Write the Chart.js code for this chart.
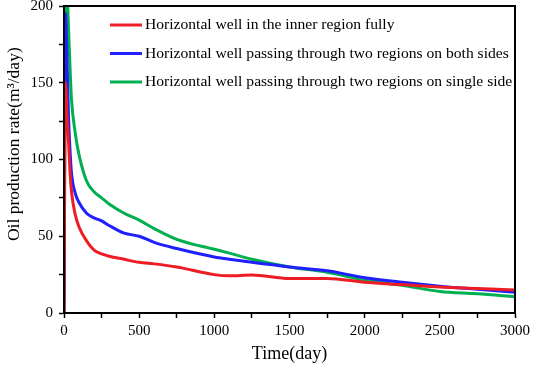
<!DOCTYPE html>
<html>
<head>
<meta charset="utf-8">
<script src="https://cdn.jsdelivr.net/npm/chart.js@4.4.1/dist/chart.umd.min.js"></script>
<style>
  body { margin: 0; background: #fff; }
  #wrap { width: 533px; height: 369px; }
</style>
</head>
<body>
<div id="wrap"><canvas id="rateChart"></canvas></div>
<script>
// Time (day)
const days = [0, 10, 20, 30, 40, 50, 75, 100, 150, 200, 250, 300, 400, 500, 600, 750, 1000, 1100, 1250, 1500, 1750, 2000, 2250, 2500, 2750, 3000];

// Oil production rate (m3/day)
const innerFully = [0, 150, 128, 112, 92, 79, 64, 56, 47, 41, 38.5, 37, 35, 33, 32, 30, 25, 24.2, 24.8, 22.5, 22.5, 20, 18.5, 17, 16, 15];
const bothSides = [0, 195, 165, 128, 106, 91, 78, 72, 65, 62, 60, 57, 52, 50, 46, 42, 36.5, 35, 33, 30, 27.5, 23, 20, 17.5, 15.5, 13.5];
const singleSide = [0, 230, 215, 185, 160, 139, 117, 103, 86, 79, 75, 71, 65, 60.5, 55, 48, 41.5, 39, 35, 30, 26.5, 21.5, 18, 14, 12.5, 10.5];

const seriesNames = [
  "Horizontal well in the inner region fully",
  "Horizontal well passing through two regions on both sides",
  "Horizontal well passing through two regions on single side",
];
const seriesColors = ["#ee1c24", "#1f1fff", "#00b050"];

const serif = "'Liberation Serif', 'Times New Roman', serif";

function toPoints(vals) {
  return days.map((d, i) => ({ x: d, y: vals[i] }));
}

// legend + frame drawn inside the plot
const framePlugin = {
  id: "frame",
  afterDraw(chart) {
    const { ctx, chartArea } = chart;
    ctx.save();
    ctx.strokeStyle = "#000";
    ctx.lineWidth = 2;
    ctx.strokeRect(chartArea.left, chartArea.top, chartArea.right - chartArea.left, chartArea.bottom - chartArea.top);

    ctx.font = "15.6px " + serif;
    ctx.textBaseline = "middle";
    ctx.fillStyle = "#000";
    chart.data.datasets.forEach((ds, i) => {
      const y = chartArea.top + 19 + i * 28.5;
      ctx.strokeStyle = ds.borderColor;
      ctx.lineWidth = 3;
      ctx.beginPath();
      ctx.moveTo(110, y);
      ctx.lineTo(142, y);
      ctx.stroke();
      ctx.fillText(ds.label, 145, y);
    });
    ctx.restore();
  },
};

new Chart(document.getElementById("rateChart"), {
  type: "line",
  data: {
    datasets: [
      { label: seriesNames[0], data: toPoints(innerFully), borderColor: seriesColors[0] },
      { label: seriesNames[1], data: toPoints(bothSides), borderColor: seriesColors[1] },
      { label: seriesNames[2], data: toPoints(singleSide), borderColor: seriesColors[2] },
    ],
  },
  options: {
    responsive: true,
    maintainAspectRatio: false,
    animation: false,
    layout: { padding: { top: 6, right: 18, left: 0, bottom: 0 } },
    elements: {
      line: { borderWidth: 3, tension: 0.4, cubicInterpolationMode: "monotone", fill: false },
      point: { radius: 0 },
    },
    plugins: {
      legend: { display: false },
      tooltip: { enabled: false },
    },
    scales: {
      x: {
        type: "linear",
        min: 0,
        max: 3000,
        afterFit(scale) { scale.height = 56; scale.paddingRight = 0; },
        border: { color: "#000", width: 2 },
        grid: { drawOnChartArea: false, tickLength: 5, color: "#000", tickWidth: 1.5 },
        ticks: {
          stepSize: 250,
          autoSkip: false,
          maxRotation: 0,
          color: "#000",
          padding: 4,
          font: { family: serif, size: 15 },
          callback: (v) => (v % 500 === 0 ? v : ""),
        },
        title: {
          display: true,
          text: "Time(day)",
          color: "#000",
          font: { family: serif, size: 18 },
          padding: { top: 0 },
        },
      },
      y: {
        min: 0,
        max: 200,
        afterFit(scale) { scale.width = 64; scale.paddingTop = 0; },
        border: { color: "#000", width: 2 },
        grid: { drawOnChartArea: false, tickLength: 5, color: "#000", tickWidth: 1.5 },
        ticks: {
          stepSize: 25,
          autoSkip: false,
          color: "#000",
          padding: 6,
          font: { family: serif, size: 15 },
          callback: (v) => (v % 50 === 0 ? v : ""),
        },
        title: {
          display: true,
          text: "       Oil production rate(m³/day)",
          color: "#000",
          font: { family: serif, size: 17.5 },
          padding: { bottom: 4 },
        },
      },
    },
  },
  plugins: [framePlugin],
});
</script>
</body>
</html>
